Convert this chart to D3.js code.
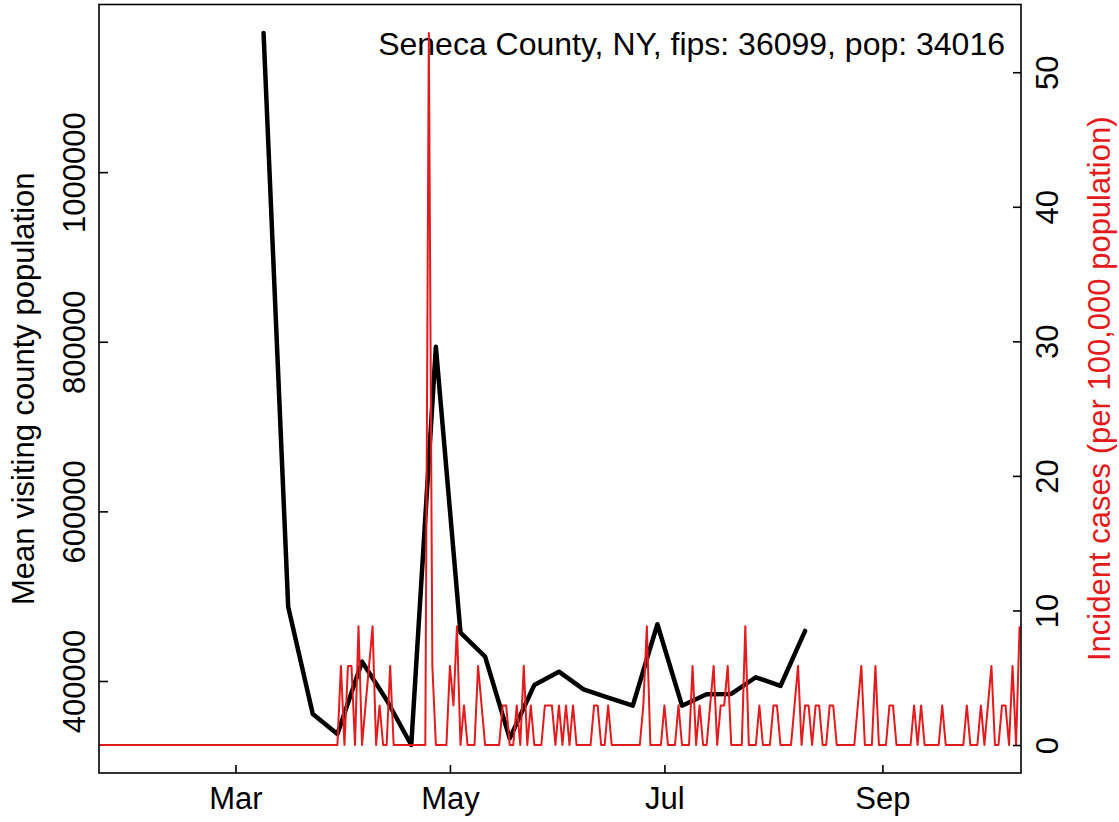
<!DOCTYPE html>
<html lang="en">
<head>
<meta charset="UTF-8">
<script src="https://d3js.org/d3.v7.min.js"></script>
<style>
  body { margin: 0; background: #fff; }
  svg { display: block; font-family: "Liberation Sans", Arial, Helvetica, sans-serif; }
</style>
</head>
<body>
<div id="chart"></div>
<script>
// County info
const countyName = "Seneca County, NY";
const fips = "36099";
const population = 34016;

// Weekly mean visiting county population (Mondays)
const visitDates = ["2020-03-09", "2020-03-16", "2020-03-23", "2020-03-30", "2020-04-06", "2020-04-13",
  "2020-04-20", "2020-04-27", "2020-05-04", "2020-05-11", "2020-05-18", "2020-05-25", "2020-06-01",
  "2020-06-08", "2020-06-15", "2020-06-22", "2020-06-29", "2020-07-06", "2020-07-13", "2020-07-20",
  "2020-07-27", "2020-08-03", "2020-08-10"];
const visitValues = [1164100, 487600, 361100, 337500, 422800, 377600, 324500, 794000, 457000, 428700,
  332400, 395300, 411000, 390200, 380300, 370900, 466900, 370900, 384300, 384700, 404400, 394100, 459000];

// Daily new cases, one value per day from caseStart
const caseStart = "2020-01-22";
const dailyCases = [
  0,0,0,0,0,0,0,0,0,0, 0,0,0,0,0,0,0,0,0,0, 0,0,0,0,0,0,0,0,0,0,
  0,0,0,0,0,0,0,0,0,0, 0,0,0,0,0,0,0,0,0,0, 0,0,0,0,0,0,0,0,0,0,
  0,0,0,0,0,0,0,0,0,2, 0,2,2,0,3,0,1,2,3,0, 1,0,0,2,0,0,0,0,0,0,
  0,0,0,0,18,2,0,0,0,0, 2,1,3,0,1,0,0,0,2,1, 0,0,0,0,0,1,1,0,0,1,
  0,2,0,1,0,0,0,1,1,1, 0,1,0,1,0,1,0,0,0,0, 0,1,1,0,0,1,0,0,0,0,
  0,0,0,0,0,1,3,0,0,0, 0,1,0,0,0,1,0,0,0,2, 0,1,0,0,1,2,0,1,1,2,
  0,0,0,0,3,0,0,0,1,0, 0,0,1,1,0,0,0,0,1,2, 0,1,1,0,1,1,0,0,1,1,
  0,0,0,0,0,0,1,2,0,0, 0,2,0,0,0,1,1,0,0,0, 0,0,1,0,1,0,0,0,0,0,
  1,0,0,0,0,0,0,1,0,0, 0,1,0,1,2,0,0,1,1,0, 2,0,3
];

// Axis ticks
const monthTicks = ["2020-03-01", "2020-05-01", "2020-07-01", "2020-09-01"];
const monthLabels = ["Mar", "May", "Jul", "Sep"];
const leftTicks = [400000, 600000, 800000, 1000000];
const rightTicks = [0, 10, 20, 30, 40, 50];

// Dimensions
const width = 1119;
const height = 822;
const box = { left: 99, right: 1021, top: 4.5, bottom: 773 };
const fontSize = 31;
const red = "#e41a1c";

const parse = d3.utcParse("%Y-%m-%d");
const day0 = parse(caseStart);
const cases = dailyCases.map((c, i) => ({
  date: d3.utcDay.offset(day0, i),
  value: c * 100000 / population
}));
const visits = visitDates.map((d, i) => ({ date: parse(d), value: visitValues[i] }));

// R-like 4% padded domain
const padded = ext => {
  const r = ext[1] - ext[0];
  return [ext[0] - 0.04 * r, ext[1] + 0.04 * r];
};

const x = d3.scaleUtc()
  .domain([day0, d3.utcDay.offset(day0, dailyCases.length - 1)])
  .range([98.3, 98.3 + (dailyCases.length - 1) * 3.5163]);

const yLeft = d3.scaleLinear()
  .domain(padded(d3.extent(visitValues)))
  .range([box.bottom + 0.5, box.top]);

const yRight = d3.scaleLinear()
  .domain(padded(d3.extent(cases, d => d.value)))
  .range([box.bottom + 0.5, box.top]);

const svg = d3.select("#chart")
  .append("svg")
  .attr("width", width)
  .attr("height", height);

svg.append("rect")
  .attr("width", width)
  .attr("height", height)
  .attr("fill", "#fff");

svg.append("clipPath")
  .attr("id", "plotClip")
  .append("rect")
  .attr("x", box.left)
  .attr("y", box.top)
  .attr("width", box.right - box.left)
  .attr("height", box.bottom - box.top);

// Title inside plot
svg.append("text")
  .attr("x", 1005)
  .attr("y", 55)
  .attr("text-anchor", "end")
  .attr("font-size", 32)
  .attr("fill", "#000")
  .text(`${countyName}, fips: ${fips}, pop: ${population}`);

// Black line: visiting population
svg.append("path")
  .datum(visits)
  .attr("clip-path", "url(#plotClip)")
  .attr("fill", "none")
  .attr("stroke", "#000")
  .attr("stroke-width", 4.5)
  .attr("stroke-linejoin", "round")
  .attr("stroke-linecap", "round")
  .attr("d", d3.line().x(d => x(d.date)).y(d => yLeft(d.value)));

// Red line: incident cases
svg.append("path")
  .datum(cases)
  .attr("clip-path", "url(#plotClip)")
  .attr("fill", "none")
  .attr("stroke", red)
  .attr("stroke-width", 2)
  .attr("stroke-linejoin", "round")
  .attr("d", d3.line().x(d => x(d.date)).y(d => yRight(d.value)));

// Box
svg.append("rect")
  .attr("x", box.left)
  .attr("y", box.top)
  .attr("width", box.right - box.left)
  .attr("height", box.bottom - box.top)
  .attr("fill", "none")
  .attr("stroke", "#000")
  .attr("stroke-width", 1.6);

// Bottom axis
svg.append("g")
  .attr("transform", `translate(0,${box.bottom})`)
  .call(d3.axisBottom(x)
    .tickValues(monthTicks.map(parse))
    .tickFormat((d, i) => monthLabels[i])
    .tickSize(-8)
    .tickSizeOuter(0))
  .call(g => g.select(".domain").remove())
  .call(g => g.selectAll("line").attr("stroke", "#000").attr("stroke-width", 1.6))
  .call(g => g.selectAll("text")
    .attr("font-size", fontSize)
    .attr("font-family", null)
    .attr("fill", "#000")
    .attr("dy", null)
    .attr("y", 36));

// Left axis
svg.append("g")
  .attr("transform", `translate(${box.left},0)`)
  .call(d3.axisLeft(yLeft)
    .tickValues(leftTicks)
    .tickFormat(d3.format("d"))
    .tickSize(-9)
    .tickSizeOuter(0))
  .call(g => g.select(".domain").remove())
  .call(g => g.selectAll("line").attr("stroke", "#000").attr("stroke-width", 1.6))
  .call(g => g.selectAll("text")
    .attr("font-size", fontSize)
    .attr("font-family", null)
    .attr("fill", "#000")
    .attr("x", null)
    .attr("dy", null)
    .attr("text-anchor", "middle")
    .attr("transform", "translate(-14,0) rotate(-90)"));

// Right axis
svg.append("g")
  .attr("transform", `translate(${box.right},0)`)
  .call(d3.axisRight(yRight)
    .tickValues(rightTicks)
    .tickFormat(d3.format("d"))
    .tickSize(-8)
    .tickSizeOuter(0))
  .call(g => g.select(".domain").remove())
  .call(g => g.selectAll("line").attr("stroke", "#000").attr("stroke-width", 1.6))
  .call(g => g.selectAll("text")
    .attr("font-size", fontSize)
    .attr("font-family", null)
    .attr("fill", "#000")
    .attr("x", null)
    .attr("dy", null)
    .attr("text-anchor", "middle")
    .attr("transform", "translate(37,0) rotate(-90)"));

// Axis titles
const midY = (box.top + box.bottom) / 2;
svg.append("text")
  .attr("transform", `translate(33.5,${midY}) rotate(-90)`)
  .attr("text-anchor", "middle")
  .attr("font-size", fontSize)
  .attr("fill", "#000")
  .text("Mean visiting county population");

svg.append("text")
  .attr("transform", `translate(1109.5,${midY}) rotate(-90)`)
  .attr("text-anchor", "middle")
  .attr("font-size", fontSize)
  .attr("fill", red)
  .text("Incident cases (per 100,000 population)");
</script>
</body>
</html>
